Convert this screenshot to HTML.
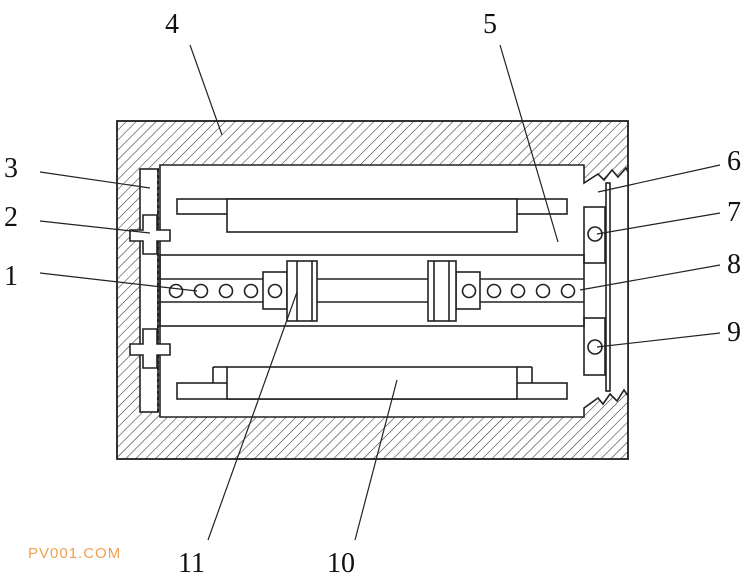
<!DOCTYPE html>
<html><head><style>
html,body{margin:0;padding:0;background:#fff;width:750px;height:580px;overflow:hidden}
svg text{font-family:"Liberation Serif",serif;font-size:28px;fill:#111}
</style></head><body>
<svg width="750" height="580" viewBox="0 0 750 580" xmlns="http://www.w3.org/2000/svg">
<defs>
<pattern id="h" width="7" height="7" patternUnits="userSpaceOnUse" patternTransform="rotate(45)">
<line x1="0" y1="0" x2="0" y2="7" stroke="#333" stroke-width="1.1"/>
</pattern>
</defs>
<g stroke="#222" stroke-width="1.6" fill="none">
<rect x="117" y="121" width="511" height="338" fill="url(#h)"/>
<rect x="117" y="121" width="511" height="338"/>
<path d="M160,165 H584 V183 L598,174 L604,180 L612,170 L618,177 L626,168 L628,172 V396 L624,390 L617,401 L610,394 L603,404 L598,398 L584,408 V417 H160 Z" fill="#fff"/>
<rect x="606" y="183" width="4" height="208" fill="#fff"/>
<rect x="584" y="207" width="21" height="56" fill="#fff"/>
<rect x="584" y="318" width="21" height="57" fill="#fff"/>
<circle cx="595" cy="234" r="7"/>
<circle cx="595" cy="347" r="7"/>
<rect x="140" y="169" width="18" height="243" fill="#fff"/>
<line x1="158" y1="169" x2="158" y2="412" stroke-dasharray="3,3" stroke-width="2"/>
<path d="M143,215 H157 V230 H170 V241 H157 V254 H143 V241 H130 V230 H143 Z" fill="#fff"/>
<path d="M143,329 H157 V344 H170 V355 H157 V368 H143 V355 H130 V344 H143 Z" fill="#fff"/>
<rect x="177" y="199" width="390" height="15"/>
<rect x="227" y="199" width="290" height="33" fill="#fff"/>
<rect x="177" y="383" width="390" height="16"/>
<rect x="227" y="367" width="290" height="32" fill="#fff"/>
<line x1="213" y1="367" x2="213" y2="383"/><line x1="213" y1="367" x2="227" y2="367"/>
<line x1="532" y1="367" x2="532" y2="383"/><line x1="517" y1="367" x2="532" y2="367"/>
<rect x="160" y="255" width="424" height="71"/>
<line x1="160" y1="279" x2="584" y2="279"/>
<line x1="160" y1="302" x2="584" y2="302"/>
<rect x="263" y="272" width="24" height="37" fill="#fff"/>
<rect x="287" y="261" width="30" height="60" fill="#fff"/>
<line x1="297" y1="261" x2="297" y2="321"/><line x1="312" y1="261" x2="312" y2="321"/>
<rect x="456" y="272" width="24" height="37" fill="#fff"/>
<rect x="428" y="261" width="28" height="60" fill="#fff"/>
<line x1="434" y1="261" x2="434" y2="321"/><line x1="449" y1="261" x2="449" y2="321"/>
<circle cx="176" cy="291" r="6.5"/><circle cx="201" cy="291" r="6.5"/><circle cx="226" cy="291" r="6.5"/><circle cx="251" cy="291" r="6.5"/><circle cx="275" cy="291" r="6.5"/>
<circle cx="469" cy="291" r="6.5"/><circle cx="494" cy="291" r="6.5"/><circle cx="518" cy="291" r="6.5"/><circle cx="543" cy="291" r="6.5"/><circle cx="568" cy="291" r="6.5"/>
</g>
<g stroke="#222" stroke-width="1.2">
<line x1="190" y1="45" x2="222" y2="135"/>
<line x1="500" y1="45" x2="558" y2="242"/>
<line x1="40" y1="172" x2="150" y2="188"/>
<line x1="40" y1="221" x2="150" y2="233"/>
<line x1="40" y1="273" x2="197" y2="291"/>
<line x1="720" y1="165" x2="598" y2="192"/>
<line x1="720" y1="213" x2="597" y2="234"/>
<line x1="720" y1="265" x2="580" y2="290"/>
<line x1="720" y1="333" x2="597" y2="347"/>
<line x1="208" y1="540" x2="297" y2="292"/>
<line x1="355" y1="540" x2="397" y2="380"/>
</g>
<text x="165" y="33">4</text>
<text x="483" y="33">5</text>
<text x="4" y="177">3</text>
<text x="4" y="226">2</text>
<text x="4" y="285">1</text>
<text x="727" y="170">6</text>
<text x="727" y="221">7</text>
<text x="727" y="273">8</text>
<text x="727" y="341">9</text>
<text x="178" y="572">11</text>
<text x="327" y="572">10</text>
<text x="28" y="558" style="font-family:'Liberation Sans',sans-serif;font-size:15px;fill:#f0a050;letter-spacing:1px">PV001.COM</text>
</svg>
</body></html>
